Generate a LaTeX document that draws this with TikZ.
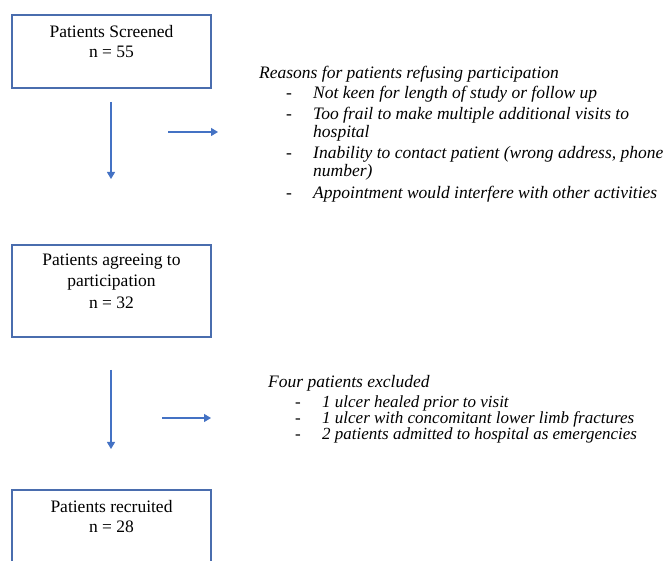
\documentclass[tikz,border=0pt]{standalone}
\usepackage{fontspec}
\setmainfont{Liberation Serif}
\usetikzlibrary{positioning,arrows.meta}
\definecolor{boxblue}{HTML}{4A6DAE}
\definecolor{arrowblue}{HTML}{4472C4}
\tikzset{
  flowbox/.style={draw=boxblue,line width=1.2pt,minimum width=199,inner sep=0pt},
  boxtext/.style={align=center,font=\fontsize{17.5}{20}\selectfont,inner sep=0pt,anchor=north},
  listhead/.style={font=\fontsize{17.5}{18}\selectfont\itshape,inner sep=0pt,anchor=base west},
  listitem/.style={font=\fontsize{17.5}{18}\selectfont\itshape,inner sep=0pt,anchor=base west},
  tightitem/.style={listitem,font=\fontsize{17}{16}\selectfont\itshape,text height=11pt,text depth=2.5pt},
  flowarrow/.style={draw=arrowblue,line width=1.1pt,-{Triangle[length=7pt,width=8pt]}}
}
\begin{document}
\begin{tikzpicture}[x=1pt,y=-1pt]
  \clip (0,0) rectangle (670,561);
  \fill[white] (0,0) rectangle (670,561);

  % boxes
  \node[flowbox,minimum height=73] (screened) at (111.5,51.5) {};
  \node[boxtext] (screenedtxt) at ([yshift=-11pt]screened.north) {Patients Screened\\n = 55};
  \node[flowbox,minimum height=92] (agreeing) at (111.5,291) {};
  \node[boxtext,font=\fontsize{17.5}{21.5}\selectfont] (agreeingtxt) at ([yshift=-9pt]agreeing.north) {Patients agreeing to\\participation\\n = 32};
  \node[flowbox,minimum height=100] (recruited) at (111.5,540) {};
  \node[boxtext] (recruitedtxt) at ([yshift=-11pt]recruited.north) {Patients recruited\\n = 28};

  % arrows
  \coordinate (down1a) at (111,102);
  \coordinate (down1b) at (111,179);
  \coordinate (side1a) at (168,132);
  \coordinate (side1b) at (218,132);
  \coordinate (down2a) at (111,370);
  \coordinate (down2b) at (111,449);
  \coordinate (side2a) at (162,418);
  \coordinate (side2b) at (211,418);
  \draw[flowarrow] (down1a) -- (down1b);
  \draw[flowarrow] (side1a) -- (side1b);
  \draw[flowarrow] (down2a) -- (down2b);
  \draw[flowarrow] (side2a) -- (side2b);

  % reasons for refusal
  \node[listhead] (reasons) at (259,79) {Reasons for patients refusing participation};
  \foreach \y/\dsh/\txt [count=\i] in {
      99/1/Not keen for length of study or follow up,
      120/1/Too frail to make multiple additional visits to,
      138/0/hospital,
      159/1/{Inability to contact patient (wrong address, phone},
      177/0/number),
      199/1/Appointment would interfere with other activities} {
    \ifnum\dsh=1 \node[listitem] (rdash\i) at (286,\y) {-}; \fi
    \node[listitem] (reason\i) at (313,\y) {\txt};
  }

  % exclusions
  \node[listhead] (excluded) at (268,388) {Four patients excluded};
  \foreach \y/\txt [count=\i] in {
      408/1 ulcer healed prior to visit,
      424/1 ulcer with concomitant lower limb fractures,
      440/2 patients admitted to hospital as emergencies} {
    \node[tightitem] (edash\i) at (295,\y) {-};
    \node[tightitem] (exclusion\i) at (322,\y) {\txt};
  }
\end{tikzpicture}
\end{document}
